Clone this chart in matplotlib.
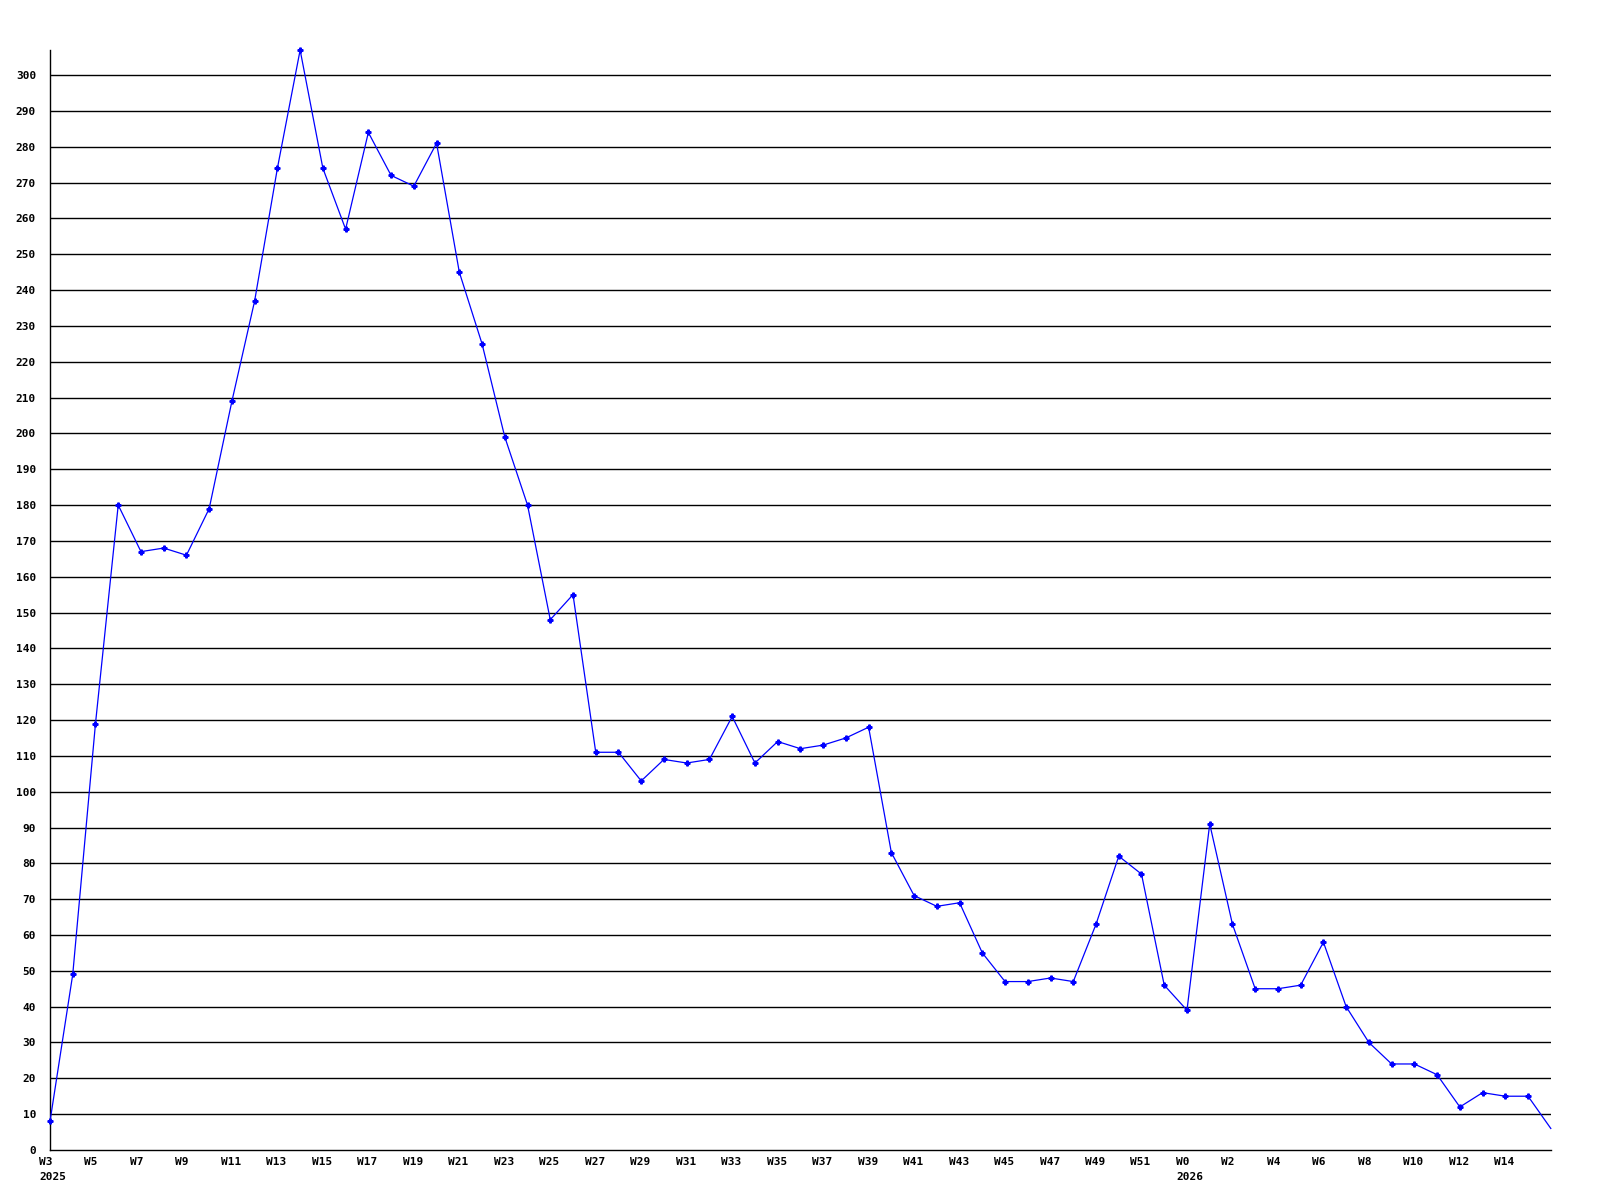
import matplotlib.pyplot as plt
from matplotlib.transforms import ScaledTranslation

# weekly counts, W3 2025 .. W16 2026
weeks_2025 = list(range(3, 53))
weeks_2026 = list(range(0, 17))
values_2025 = [8, 49, 119, 180, 167, 168, 166, 179, 209, 237,
               274, 307, 274, 257, 284, 272, 269, 281, 245, 225,
               199, 180, 148, 155, 111, 111, 103, 109, 108, 109,
               121, 108, 114, 112, 113, 115, 118, 83, 71, 68,
               69, 55, 47, 47, 48, 47, 63, 82, 77, 46]
values_2026 = [39, 91, 63, 45, 45, 46, 58, 40, 30, 24,
               24, 21, 12, 16, 15, 15, 6]

week_labels = [f"W{w}" for w in weeks_2025] + [f"W{w}" for w in weeks_2026]
values = values_2025 + values_2026
x = list(range(len(values)))

plt.rcParams["font.family"] = "DejaVu Sans Mono"

fig = plt.figure(figsize=(16, 12), dpi=100)
ax = fig.add_axes([0.03125, 0.0417, 0.938, 0.9166])

for v in range(10, 310, 10):
    ax.axhline(v, color="black", linewidth=1.0, zorder=1)

ax.plot(x, values, color="#0000ff", linewidth=0.9, marker="P", markersize=3.5,
        markevery=list(range(len(values) - 1)), clip_on=False, zorder=3)

ax.set_xlim(0, len(values) - 1)
ax.set_ylim(0, max(values))

ax.set_yticks(range(0, 310, 10))
ax.set_yticklabels([str(v) for v in range(0, 310, 10)], fontsize=8, fontweight="bold")
ax.tick_params(axis="y", length=0, pad=10)

# label every second week, last one is not labelled
ticks = x[:-1:2]
labels = []
for i in ticks:
    lab = week_labels[i]
    if i == 0:
        lab += "\n2025"
    elif i == len(weeks_2025):
        lab += "\n2026"
    labels.append(lab)
ax.set_xticks(ticks)
ax.set_xticklabels(labels, fontsize=8, fontweight="bold", ha="left",
                   multialignment="left", linespacing=1.6)
ax.tick_params(axis="x", length=0, pad=5)
offset = ScaledTranslation(-0.11, 0, fig.dpi_scale_trans)
for lbl in ax.get_xticklabels():
    lbl.set_transform(lbl.get_transform() + offset)

for side in ["top", "right"]:
    ax.spines[side].set_visible(False)
ax.spines["left"].set_linewidth(1.0)
ax.spines["bottom"].set_linewidth(1.0)

fig.savefig("out.png", dpi=100)
